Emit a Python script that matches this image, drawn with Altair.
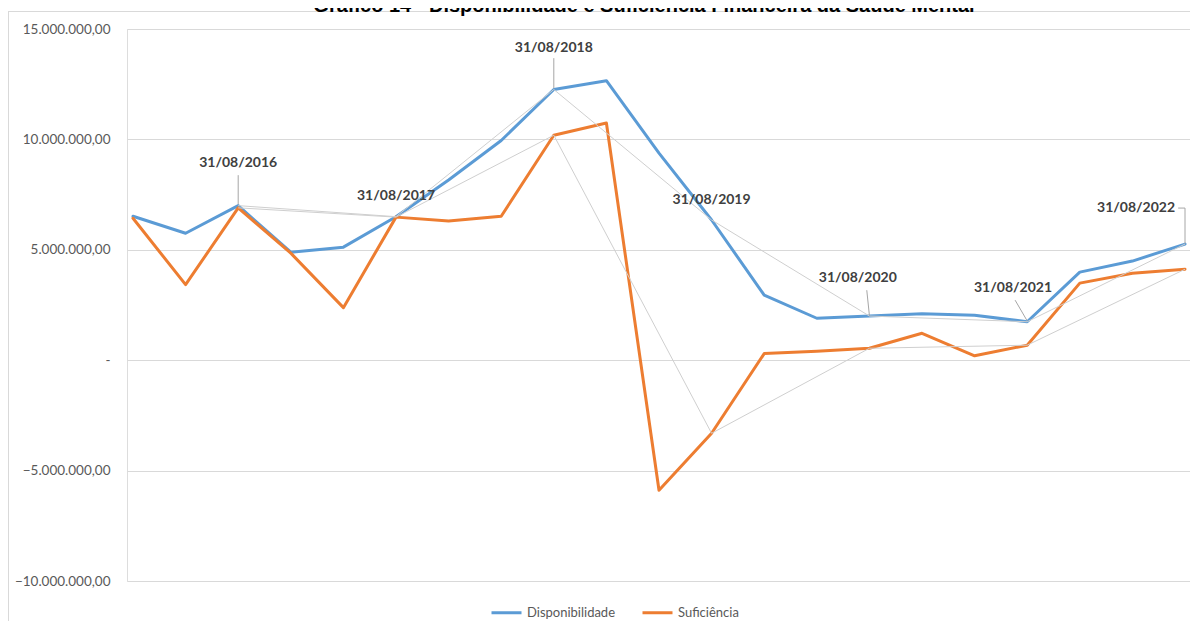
import altair as alt
import pandas as pd

# ---- data (values in millions of R$) ----
periodo = list(range(21))
disponibilidade = [6.52, 5.75, 7.00, 4.89, 5.12, 6.50, 8.16, 9.95, 12.26, 12.66, 9.38,
                   6.35, 2.95, 1.90, 2.00, 2.10, 2.04, 1.74, 3.99, 4.49, 5.26]
suficiencia = [6.43, 3.42, 6.90, 4.85, 2.38, 6.48, 6.30, 6.52, 10.19, 10.74, -5.89,
               -3.31, 0.30, 0.41, 0.54, 1.22, 0.20, 0.68, 3.49, 3.94, 4.12]
series = ["Disponibilidade", "Suficiência"]
anuais = [2, 5, 8, 11, 14, 17, 20]

rotulos = ["31/08/2016", "31/08/2017", "31/08/2018", "31/08/2019",
           "31/08/2020", "31/08/2021", "31/08/2022"]
rotulo_x = [2, 5, 8, 11, 13.78, 16.73, 19.07]
rotulo_y = [8.93, 7.43, 14.14, 7.25, 3.72, 3.26, 6.89]

guia_x = [2, 8, 13.95, 16.77, 19.87, 20]
guia_y = [8.38, 13.68, 3.17, 2.72, 6.89, 6.89]
guia_x2 = [2, 8, 14, 17, 20, 20]
guia_y2 = [7.05, 12.32, 2.03, 1.78, 6.89, 5.28]

y_ticks = [-10, -5, 0, 5, 10, 15]

M = 1_000_000
titulo = "Gráfico 14 - Disponibilidade e Suficiência Financeira da Saúde Mental"

# ---- tables ----
rows = []
for i in periodo:
    rows.append({"idx": i, "serie": series[0], "valor": disponibilidade[i] * M})
    rows.append({"idx": i, "serie": series[1], "valor": suficiencia[i] * M})
df = pd.DataFrame(rows)
df_anual = df[df["idx"].isin(anuais)]
df_rot = pd.DataFrame({"idx": rotulo_x, "valor": [v * M for v in rotulo_y], "txt": rotulos})
df_guia = pd.DataFrame({"x": guia_x, "y": [v * M for v in guia_y],
                        "x2": guia_x2, "y2": [v * M for v in guia_y2]})

xscale = alt.Scale(domain=[-0.114, 20.095], nice=False, zero=False)
yscale = alt.Scale(domain=[-10 * M, 15 * M], nice=False)

label_expr = ("datum.value == 0 ? '-\u00a0\u00a0\u00a0' : "
              "replace(replace(replace(format(datum.value, ',.2f'), regexp(',', 'g'), '#'), '.', ','), regexp('#', 'g'), '.')")

X = alt.X("idx:Q", scale=xscale, axis=None)
Y = alt.Y("valor:Q", scale=yscale, title=None,
          axis=alt.Axis(values=[v * M for v in y_ticks], grid=True, gridColor="#d9d9d9",
                        gridWidth=1, domain=False, ticks=False, labelExpr=label_expr,
                        labelFont="Lato", labelFontSize=13.5, labelColor="#595959",
                        labelPadding=17))

lines = alt.Chart(df).mark_line(strokeWidth=3, strokeJoin="round", strokeCap="round").encode(
    x=X, y=Y,
    color=alt.Color("serie:N",
                    scale=alt.Scale(domain=series, range=["#5B9BD5", "#ED7D31"]),
                    legend=alt.Legend(orient="none", legendX=363, legendY=567,
                                      direction="horizontal", title=None,
                                      symbolType="stroke", symbolStrokeWidth=3,
                                      symbolSize=900, labelFont="Lato", labelFontSize=13,
                                      labelColor="#595959", columnPadding=20,
                                      labelOffset=4, padding=0)),
)

gray = alt.Chart(df_anual).mark_line(strokeWidth=1, color="#cfcfcf").encode(
    x="idx:Q", y="valor:Q", detail="serie:N")

leaders = alt.Chart(df_guia).mark_rule(strokeWidth=1, color="#a6a6a6").encode(
    x="x:Q", y="y:Q", x2="x2:Q", y2="y2:Q")

labels = alt.Chart(df_rot).mark_text(font="Lato", fontSize=14, fontWeight="bold",
                                     color="#404040", align="center", baseline="middle").encode(
    x="idx:Q", y="valor:Q", text="txt:N")

frame_left = alt.Chart(df_rot).mark_rule(color="#d9d9d9", strokeWidth=1).encode(
    x=alt.value(-118.5), y=alt.value(-17.5), y2=alt.value(700))
frame_top = alt.Chart(df_rot).mark_rule(color="#d9d9d9", strokeWidth=1).encode(
    x=alt.value(-118.5), x2=alt.value(1200), y=alt.value(-17.5))

title = alt.Chart(pd.DataFrame({"t": [titulo]})).mark_text(
    font="Liberation Sans", fontSize=20, fontWeight="bold", color="#000000",
    align="center", baseline="alphabetic").encode(
    x=alt.value(517), y=alt.value(-17), text="t:N")

chart = alt.layer(frame_left, frame_top, lines, gray, leaders, labels, title).properties(
    width=1063, height=552,
    autosize=alt.AutoSizeParams(type="none"),
    padding={"left": 119, "top": 21, "right": 0, "bottom": 40},
).configure_view(stroke=None).configure(background="white")

chart.save("out.html", embed_options={"renderer": "svg", "actions": False})
